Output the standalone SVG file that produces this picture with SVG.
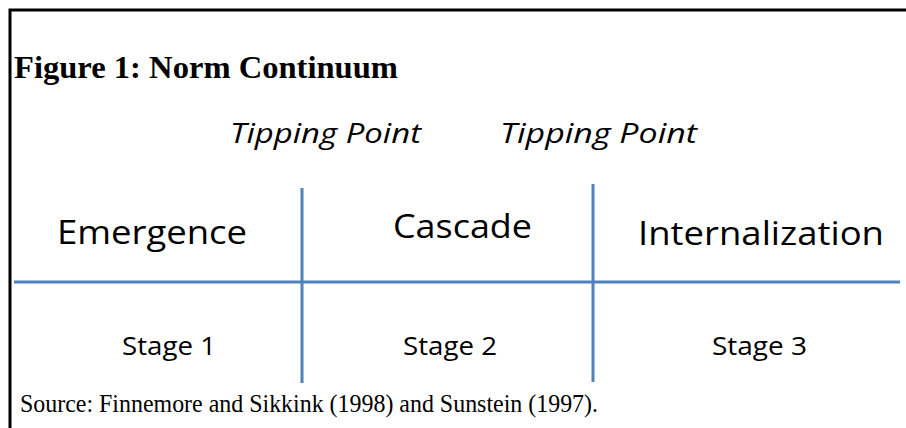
<svg xmlns="http://www.w3.org/2000/svg" width="906" height="428" viewBox="0 0 906 428">
<style>
.frame{fill:none;stroke:#000;stroke-width:3}
.ln{stroke:#4f81bd;stroke-width:3;fill:none}
.serif{font-family:"Liberation Serif","Times New Roman",serif;fill:#000}
.sans{font-family:"Open Sans","Liberation Sans",Arial,sans-serif;fill:#000}
</style>
<rect width="906" height="428" fill="#fff"/>
<path class="frame" d="M10,430 V10 H906"/>
<text class="serif" x="14" y="78" font-size="31" font-weight="bold" textLength="384" lengthAdjust="spacingAndGlyphs">Figure 1: Norm Continuum</text>
<g id="tp1"><text class="sans" x="230" y="143" font-size="28" font-style="italic" textLength="191" lengthAdjust="spacingAndGlyphs">Tipping Point</text></g>
<g id="tp2"><text class="sans" x="500" y="143" font-size="28" font-style="italic" textLength="197" lengthAdjust="spacingAndGlyphs">Tipping Point</text></g>
<g id="connectors">
<line class="ln" x1="14" y1="282" x2="900" y2="282"/>
<line class="ln" x1="302" y1="188" x2="302" y2="383"/>
<line class="ln" x1="593" y1="184" x2="593" y2="382"/>
</g>
<g id="emergence"><text class="sans" x="57" y="244" font-size="33" textLength="190" lengthAdjust="spacingAndGlyphs">Emergence</text></g>
<g id="cascade"><text class="sans" x="393" y="238" font-size="33" textLength="139" lengthAdjust="spacingAndGlyphs">Cascade</text></g>
<g id="internalization"><text class="sans" x="638" y="245" font-size="33" textLength="246" lengthAdjust="spacingAndGlyphs">Internalization</text></g>
<g id="stage1"><text class="sans" x="122" y="355" font-size="26" textLength="94" lengthAdjust="spacingAndGlyphs">Stage 1</text></g>
<g id="stage2"><text class="sans" x="403" y="355" font-size="26" textLength="94" lengthAdjust="spacingAndGlyphs">Stage 2</text></g>
<g id="stage3"><text class="sans" x="712" y="355" font-size="26" textLength="95" lengthAdjust="spacingAndGlyphs">Stage 3</text></g>
<text class="serif" x="20" y="412" font-size="25" textLength="578" lengthAdjust="spacingAndGlyphs">Source: Finnemore and Sikkink (1998) and Sunstein (1997).</text>
</svg>
